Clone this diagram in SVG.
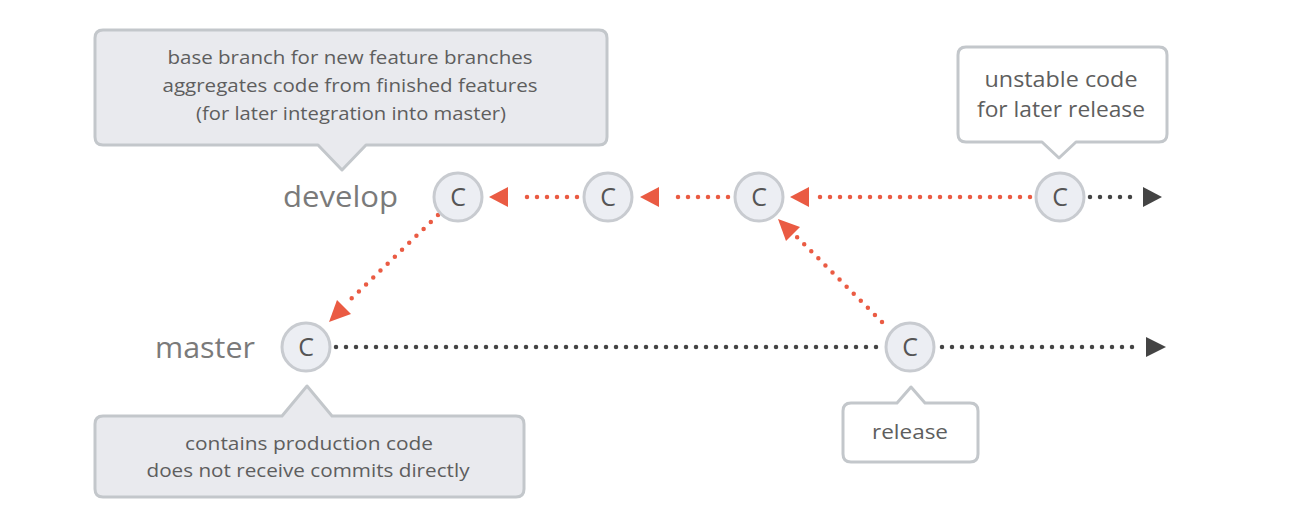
<svg xmlns="http://www.w3.org/2000/svg" width="1289" height="520" viewBox="0 0 1289 520">
<style>
.bg{fill:#ffffff}
.callout-grey{fill:#e9eaee;stroke:#c3c7cb;stroke-width:3;stroke-linejoin:round}
.callout-white{fill:#ffffff;stroke:#c3c7cb;stroke-width:3;stroke-linejoin:round}
.ctext{font-family:"Open Sans",Lato,sans-serif;fill:#5e5e5e;text-anchor:middle}
.branch{font-family:"Open Sans",Lato,sans-serif;fill:#7a7a7a;font-size:30px;text-anchor:start}
.commit circle{fill:#eceef3;stroke:#c8cbd0;stroke-width:3}
.commit text{font-family:"Open Sans",Lato,sans-serif;font-size:25px;fill:#555;text-anchor:middle}
.red{stroke:#ea5b43;stroke-width:4.5;stroke-linecap:round;stroke-dasharray:0 10;fill:none}
.black{stroke:#444;stroke-width:4.5;stroke-linecap:round;stroke-dasharray:0 10;fill:none}
.redhead{fill:#ea5b43}
.blackhead{fill:#444}
</style>
<rect class="bg" x="0" y="0" width="1289" height="520"/>

<g id="callout-develop">
<path class="callout-grey" d="M103 30 H599 Q607 30 607 38 V137 Q607 145 599 145 H366 L342 170 L318 145 H103 Q95 145 95 137 V38 Q95 30 103 30 Z"/>
<text class="ctext" font-size="18" x="350" y="64" textLength="365" lengthAdjust="spacingAndGlyphs">base branch for new feature branches</text>
<text class="ctext" font-size="18" x="350" y="92" textLength="375" lengthAdjust="spacingAndGlyphs">aggregates code from finished features</text>
<text class="ctext" font-size="18" x="351" y="120" textLength="310" lengthAdjust="spacingAndGlyphs">(for later integration into master)</text>
</g>

<g id="callout-unstable">
<path class="callout-white" d="M966 47 H1159 Q1167 47 1167 55 V134 Q1167 142 1159 142 H1076 L1059 158 L1042 142 H966 Q958 142 958 134 V55 Q958 47 966 47 Z"/>
<text class="ctext" font-size="21" x="1061" y="87" textLength="153" lengthAdjust="spacingAndGlyphs">unstable code</text>
<text class="ctext" font-size="21" x="1061" y="117" textLength="168" lengthAdjust="spacingAndGlyphs">for later release</text>
</g>

<g id="callout-master">
<path class="callout-grey" d="M103 416 H282 L307 386 L332 416 H516 Q524 416 524 424 V489 Q524 497 516 497 H103 Q95 497 95 489 V424 Q95 416 103 416 Z"/>
<text class="ctext" font-size="18" x="309" y="450" textLength="248" lengthAdjust="spacingAndGlyphs">contains production code</text>
<text class="ctext" font-size="18" x="308" y="477" textLength="323" lengthAdjust="spacingAndGlyphs">does not receive commits directly</text>
</g>

<g id="callout-release">
<path class="callout-white" d="M851 403 H897 L911 387 L925 403 H970 Q978 403 978 411 V454 Q978 462 970 462 H851 Q843 462 843 454 V411 Q843 403 851 403 Z"/>
<text class="ctext" font-size="20" x="910" y="439" textLength="76" lengthAdjust="spacingAndGlyphs">release</text>
</g>

<g id="label-develop"><text class="branch" x="283" y="207" textLength="115" lengthAdjust="spacingAndGlyphs">develop</text></g>
<g id="label-master"><text class="branch" x="155" y="358" textLength="100" lengthAdjust="spacingAndGlyphs">master</text></g>

<g id="connectors">
<line class="red" x1="1030" y1="197" x2="818" y2="197"/>
<polygon class="redhead" points="790,197 809,187 809,207"/>
<line class="red" x1="728" y1="197" x2="668" y2="197"/>
<polygon class="redhead" points="640,197 659,187 659,207"/>
<line class="red" x1="577" y1="197" x2="517" y2="197"/>
<polygon class="redhead" points="489,197 508,187 508,207"/>
<line class="black" x1="1090" y1="197" x2="1132" y2="197"/>
<polygon class="blackhead" points="1162,197 1143,187 1143,207"/>
<line class="red" x1="438" y1="215" x2="350" y2="300"/>
<polygon class="redhead" points="329,322 337,300 351,314"/>
<line class="red" x1="882" y1="322" x2="796" y2="236"/>
<polygon class="redhead" points="778,219 800,227 786,241"/>
<line class="black" x1="336" y1="347" x2="880" y2="347"/>
<line class="black" x1="942" y1="347" x2="1136" y2="347"/>
<polygon class="blackhead" points="1166,347 1146,337 1146,357"/>
</g>

<g id="commit-d1" class="commit"><circle cx="458" cy="197" r="24"/><text x="458" y="206">C</text></g>
<g id="commit-d2" class="commit"><circle cx="608" cy="197" r="24"/><text x="608" y="206">C</text></g>
<g id="commit-d3" class="commit"><circle cx="759" cy="197" r="24"/><text x="759" y="206">C</text></g>
<g id="commit-d4" class="commit"><circle cx="1060" cy="197" r="24"/><text x="1060" y="206">C</text></g>
<g id="commit-m1" class="commit"><circle cx="306" cy="347" r="24"/><text x="306" y="356">C</text></g>
<g id="commit-m2" class="commit"><circle cx="910" cy="347" r="24"/><text x="910" y="356">C</text></g>
</svg>
